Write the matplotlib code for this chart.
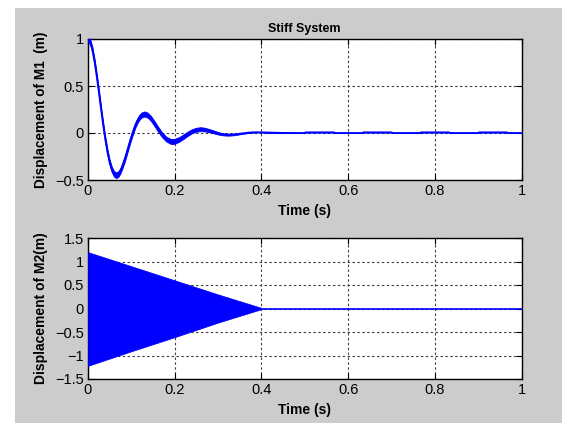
import matplotlib
matplotlib.use('Agg')
import matplotlib.pyplot as plt
from matplotlib.patches import Rectangle

plt.rcParams['font.family'] = ['Liberation Sans', 'DejaVu Sans']
plt.rcParams['font.size'] = 10

# M1 displacement (centre line and ripple half-width)
t1 = [0.000, 0.005, 0.010, 0.015, 0.020, 0.025, 0.030, 0.035, 0.040, 0.045,
      0.050, 0.055, 0.060, 0.065, 0.070, 0.075, 0.080, 0.085, 0.090, 0.095,
      0.100, 0.105, 0.110, 0.115, 0.120, 0.125, 0.130, 0.135, 0.140, 0.145,
      0.150, 0.155, 0.160, 0.170, 0.180, 0.190, 0.195, 0.200, 0.210, 0.220,
      0.230, 0.240, 0.250, 0.260, 0.270, 0.280, 0.290, 0.300, 0.310, 0.320,
      0.330, 0.340, 0.350, 0.360, 0.370, 0.380, 0.390, 0.400, 0.450, 0.500,
      0.502, 0.567, 0.570, 0.633, 0.635, 0.700, 0.702, 0.766, 0.768, 0.833,
      0.835, 0.900, 0.902, 0.966, 0.968, 1.000]
y1 = [1.000, 0.970, 0.888, 0.764, 0.609, 0.437, 0.259, 0.087, -0.070, -0.205,
      -0.313, -0.389, -0.434, -0.450, -0.437, -0.400, -0.341, -0.274, -0.197, -0.116,
      -0.040, 0.031, 0.092, 0.140, 0.175, 0.195, 0.202, 0.196, 0.180, 0.155,
      0.123, 0.089, 0.052, -0.014, -0.063, -0.088, -0.091, -0.088, -0.069, -0.040,
      -0.008, 0.019, 0.035, 0.041, 0.036, 0.025, 0.011, -0.003, -0.013, -0.018,
      -0.018, -0.014, -0.008, -0.002, 0.004, 0.007, 0.008, 0.007, 0.001, 0.000,
      0.007, 0.007, 0.000, 0.000, 0.007, 0.007, 0.000, 0.000, 0.007, 0.007,
      0.000, 0.000, 0.007, 0.007, 0.000, 0.000]
r1 = [0.030, 0.030, 0.030, 0.030, 0.030, 0.030, 0.030, 0.030, 0.030, 0.030,
      0.030, 0.030, 0.030, 0.030, 0.030, 0.029, 0.029, 0.029, 0.028, 0.028,
      0.028, 0.028, 0.027, 0.027, 0.027, 0.027, 0.027, 0.027, 0.027, 0.027,
      0.027, 0.027, 0.027, 0.026, 0.026, 0.026, 0.026, 0.026, 0.025, 0.024,
      0.023, 0.022, 0.021, 0.021, 0.019, 0.017, 0.015, 0.013, 0.011, 0.010,
      0.009, 0.008, 0.006, 0.005, 0.004, 0.003, 0.002, 0.001, 0.000, 0.000,
      0.000, 0.000, 0.000, 0.000, 0.000, 0.000, 0.000, 0.000, 0.000, 0.000,
      0.000, 0.000, 0.000, 0.000, 0.000, 0.000]

# M2 displacement: envelope of the fast oscillation, then rest at zero
t2 = [0.00, 0.10, 0.20, 0.30, 0.405]
env_hi = [1.20, 0.90, 0.60, 0.30, 0.00]
env_lo = [-1.22, -0.91, -0.61, -0.30, 0.00]
t2_rest = [0.405, 1.00]
y2_rest = [0.0, 0.0]

xticks = [0, 0.2, 0.4, 0.6, 0.8, 1]
yticks1 = [-0.5, 0, 0.5, 1]
yticks2 = [-1.5, -1, -0.5, 0, 0.5, 1, 1.5]

blue = '#0000ff'

fig = plt.figure(figsize=(5.62, 4.23), dpi=100)
fig.patch.set_facecolor('white')
fig.patches.append(Rectangle((15 / 562, 0), 1 - 15 / 562, 1 - 8 / 423,
                             transform=fig.transFigure, facecolor='#cccccc',
                             edgecolor='none', zorder=-10))

ax1 = fig.add_axes([88 / 562, 1 - 180 / 423, 433.5 / 562, 141 / 423])
ax2 = fig.add_axes([88 / 562, 1 - 379 / 423, 433.5 / 562, 141 / 423])

lo1 = [a - b for a, b in zip(y1, r1)]
hi1 = [a + b for a, b in zip(y1, r1)]
ax1.fill_between(t1, lo1, hi1, color=blue, linewidth=0.6, zorder=3)
ax1.plot(t1, y1, color=blue, linewidth=1.3, zorder=3)
ax1.set_ylim(-0.5, 1)
ax1.set_yticks(yticks1)
ax1.set_yticklabels(['\u22120.5', '0', '0.5', '1'])
ax1.set_title('Stiff System', fontweight='bold', fontsize=9, pad=5)
ax1.set_ylabel('Displacement of M1  (m)', fontweight='bold', fontsize=9.8)

ax2.fill_between(t2, env_lo, env_hi, color=blue, linewidth=0.5, zorder=3)
ax2.plot(t2_rest, y2_rest, color=blue, linewidth=1.2, zorder=3)
ax2.set_ylim(-1.5, 1.5)
ax2.set_yticks(yticks2)
ax2.set_yticklabels(['\u22121.5', '\u22121', '\u22120.5', '0', '0.5', '1', '1.5'])
ax2.set_ylabel('Displacement of M2(m)', fontweight='bold', fontsize=10)

for ax in (ax1, ax2):
    ax.set_xlim(0, 1)
    ax.set_xticks(xticks)
    ax.set_xticklabels(['0', '0.2', '0.4', '0.6', '0.8', '1'])
    ax.set_xlabel('Time (s)', fontweight='bold', fontsize=10, labelpad=4)
    ax.set_facecolor('white')
    ax.grid(True, color='0.25', linestyle=(0, (2.2, 2.2)), linewidth=0.8)
    ax.set_axisbelow(True)
    ax.tick_params(direction='in', length=4, width=0.8, top=True, right=True,
                   labelsize=10.5, pad=3)
    for s in ax.spines.values():
        s.set_linewidth(1.0)
    ax.yaxis.set_label_coords(-0.092, 0.5)

fig.savefig('out.png', dpi=100)
